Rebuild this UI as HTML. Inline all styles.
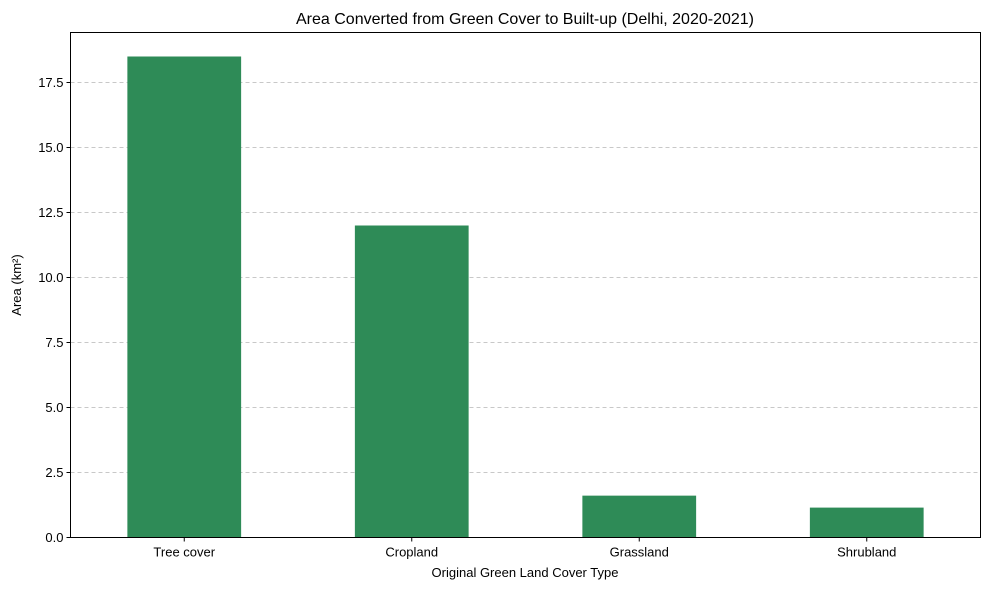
<!DOCTYPE html>
<html><head><meta charset="utf-8"><style>
body{margin:0;background:#fff;}
svg text{font-family:"Liberation Sans","DejaVu Sans",sans-serif;fill:#000;}
</style></head><body>
<svg id="chart" width="989" height="590">
<text x="525" y="24" font-size="16" text-anchor="middle">Area Converted from Green Cover to Built-up (Delhi, 2020-2021)</text>
<g id="grid"></g><g id="bars"></g><g id="ticks"></g>
<rect x="70.5" y="32.5" width="910" height="505" fill="none" stroke="#000" stroke-width="1"/>
<text x="525" y="577" font-size="13" text-anchor="middle">Original Green Land Cover Type</text>
<text transform="translate(21,285) rotate(-90)" font-size="13" text-anchor="middle">Area (km²)</text>
</svg>
<script>
const categories=["Tree cover","Cropland","Grassland","Shrubland"];
const values=[18.5,12.0,1.61,1.15];
const yTicks=[0,2.5,5,7.5,10,12.5,15,17.5];
const yTickLabels=["0.0","2.5","5.0","7.5","10.0","12.5","15.0","17.5"];
const L=70.5,R=980.5,T=32.5,B=537.5;
const yMax=(B-T)/26;
function y(v){return B-v*26;}
function x(i){return L+(i+0.5)*(R-L)/categories.length;}
const NS="http://www.w3.org/2000/svg";
function mk(t,a,p){const e=document.createElementNS(NS,t);for(const k in a)e.setAttribute(k,a[k]);p.appendChild(e);return e;}
const grid=document.getElementById('grid'),bars=document.getElementById('bars'),ticks=document.getElementById('ticks');
yTicks.forEach((v,i)=>{
 if(v>0){const g=mk('line',{x1:L,x2:R,y1:y(v),y2:y(v),stroke:'#c8c8c8','stroke-dasharray':'4,3','stroke-width':1},grid);
 
 }
 const t=mk('line',{x1:L-4,x2:L,y1:y(v),y2:y(v),stroke:'#000'},ticks);
 
 
 const l=mk('text',{x:L-7,y:y(v)+4.5,'font-size':13,'text-anchor':'end'},ticks);l.textContent=yTickLabels[i];
 
 
});
const bw=0.5*(R-L)/categories.length;
categories.forEach((c,i)=>{
 const b=mk('rect',{x:x(i)-bw/2,y:y(values[i]),width:bw,height:B-y(values[i]),fill:'#2e8b57'},bars);
 
 
 const t=mk('line',{x1:x(i),x2:x(i),y1:B,y2:B+4,stroke:'#000'},ticks);
 
 
 const l=mk('text',{x:x(i),y:B+19,'font-size':13,'text-anchor':'middle'},ticks);l.textContent=c;
 
 
});
</script>
</body></html>
